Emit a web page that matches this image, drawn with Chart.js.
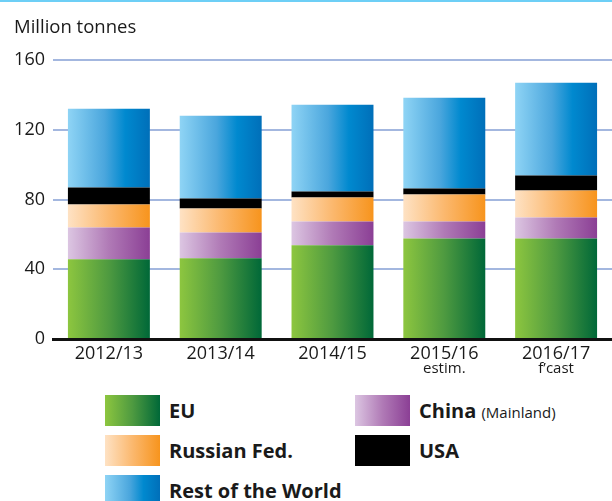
<!DOCTYPE html>
<html>
<head>
<meta charset="utf-8">
<script src="https://cdn.jsdelivr.net/npm/chart.js@4/dist/chart.umd.min.js"></script>
<style>
  html, body { margin: 0; padding: 0; background: #fff; }
  body { width: 612px; height: 501px; position: relative; overflow: hidden;
         font-family: "Open Sans", "Noto Sans", sans-serif; color: #1a1a1a; }
  .topline { position: absolute; left: 0; top: 0; width: 612px; height: 2px; background: #6dcff6; }
  .unit { position: absolute; left: 14px; top: 13px; font-size: 18.5px; }
  #wrap { position: absolute; left: 0; top: 0; width: 612px; height: 385px; }
  .sw { position: absolute; width: 55px; height: 31px; }
  .lt { position: absolute; font-size: 20px; font-weight: 700; line-height: 31px; white-space: nowrap; }
  .lt small { font-size: 15px; font-weight: 400; }
</style>
</head>
<body>
<div class="topline"></div>
<div id="wrap"><canvas id="chart"></canvas></div>
<div class="unit">Million tonnes</div>
<div id="legend"></div>
<script>
// ======== Data ========
const categories = ["2012/13", "2013/14", "2014/15", "2015/16", "2016/17"];
const subLabels  = ["", "", "", "estim.", "f\u2019cast"];
const yTicks     = [0, 40, 80, 120, 160];

const euValues     = [45.7, 46.3, 53.7, 57.7, 57.7];
const chinaValues  = [18.3, 14.8, 13.7,  9.7, 12.0];
const russiaValues = [13.1, 13.8, 13.7, 15.5, 15.4];
const usaValues    = [ 9.8,  5.7,  3.5,  3.4,  8.6];
const rowValues    = [45.1, 47.4, 49.7, 52.0, 53.2];

// ======== Styling ========
const FONT = '"Open Sans", "Noto Sans", sans-serif';
const BAR_PCT = 0.733;
const GREEN  = [[0, "#8dc63f"], [0.5, "#4e9a40"], [1, "#006838"]];
const PURPLE = [[0, "#dcc6e2"], [0.5, "#b07ab6"], [1, "#8b3f95"]];
const ORANGE = [[0, "#fee2c4"], [0.5, "#fbb86e"], [1, "#f7941d"]];
const BLUE   = [[0, "#8fd4f5"], [0.45, "#4aa6dd"], [0.7, "#0089cf"], [1, "#006fb9"]];

function cssGrad(stops) {
  return "linear-gradient(to right, " + stops.map(s => s[1] + " " + (s[0] * 100) + "%").join(", ") + ")";
}

// horizontal gradient across each bar
function barGradient(stops) {
  return function (ctx) {
    const chart = ctx.chart;
    const x = chart.scales.x;
    if (!chart.chartArea || !x || ctx.dataIndex === undefined) return stops[stops.length - 1][1];
    const cx = x.getPixelForValue(ctx.dataIndex);
    const w = (x.width / categories.length) * BAR_PCT;
    const g = chart.ctx.createLinearGradient(cx - w / 2, 0, cx + w / 2, 0);
    stops.forEach(s => g.addColorStop(s[0], s[1]));
    return g;
  };
}

// sub-labels under the x ticks (smaller font)
const subLabelPlugin = {
  id: "subLabels",
  afterDraw(chart) {
    const c = chart.ctx, x = chart.scales.x;
    c.save();
    c.font = "15px " + FONT;
    c.fillStyle = "#1a1a1a";
    c.textAlign = "center";
    c.textBaseline = "middle";
    subLabels.forEach((t, i) => { if (t) c.fillText(t, x.getPixelForValue(i), 369); });
    c.restore();
  }
};

const ds = (label, data, stops) => ({
  label, data,
  backgroundColor: stops ? barGradient(stops) : "#000",
  borderWidth: 0,
  barPercentage: BAR_PCT,
  categoryPercentage: 1
});

new Chart(document.getElementById("chart"), {
  type: "bar",
  data: {
    labels: categories,
    datasets: [
      ds("EU", euValues, GREEN),
      ds("China (Mainland)", chinaValues, PURPLE),
      ds("Russian Fed.", russiaValues, ORANGE),
      ds("USA", usaValues, null),
      ds("Rest of the World", rowValues, BLUE)
    ]
  },
  options: {
    responsive: true,
    maintainAspectRatio: false,
    animation: false,
    layout: { padding: { top: 60, right: 0, left: 0, bottom: 0 } },
    plugins: { legend: { display: false }, tooltip: { enabled: false } },
    scales: {
      x: {
        stacked: true,
        grid: { display: false },
        border: { display: true, color: "#111", width: 3 },
        ticks: { color: "#1a1a1a", padding: -4, font: { size: 18, family: FONT } },
        afterFit: s => { s.height = 46; }
      },
      y: {
        stacked: true,
        min: 0, max: 160,
        afterBuildTicks: s => { s.ticks = yTicks.map(v => ({ value: v })); },
        grid: {
          color: c => (c.tick && c.tick.value === 0 ? "rgba(0,0,0,0)" : "#a3b7df"),
          lineWidth: 2,
          drawTicks: false
        },
        border: { display: false },
        ticks: { color: "#1a1a1a", padding: 8, font: { size: 18, family: FONT } },
        afterFit: s => { s.width = 53; }
      }
    }
  },
  plugins: [subLabelPlugin]
});

// ======== HTML legend (gradient swatches) ========
const legendItems = [
  { x: 105, y: 395, stops: GREEN,  html: "EU" },
  { x: 355, y: 395, stops: PURPLE, html: "China <small>(Mainland)</small>" },
  { x: 105, y: 435, stops: ORANGE, html: "Russian Fed." },
  { x: 355, y: 435, stops: null,   html: "USA" },
  { x: 105, y: 475, stops: BLUE,   html: "Rest of the World" }
];
const lg = document.getElementById("legend");
legendItems.forEach(it => {
  const sw = document.createElement("div");
  sw.className = "sw";
  sw.style.left = it.x + "px"; sw.style.top = it.y + "px";
  sw.style.background = it.stops ? cssGrad(it.stops) : "#000";
  const t = document.createElement("div");
  t.className = "lt";
  t.style.left = (it.x + 64) + "px"; t.style.top = (it.y) + "px";
  t.innerHTML = it.html;
  lg.appendChild(sw); lg.appendChild(t);
});
</script>
</body>
</html>
